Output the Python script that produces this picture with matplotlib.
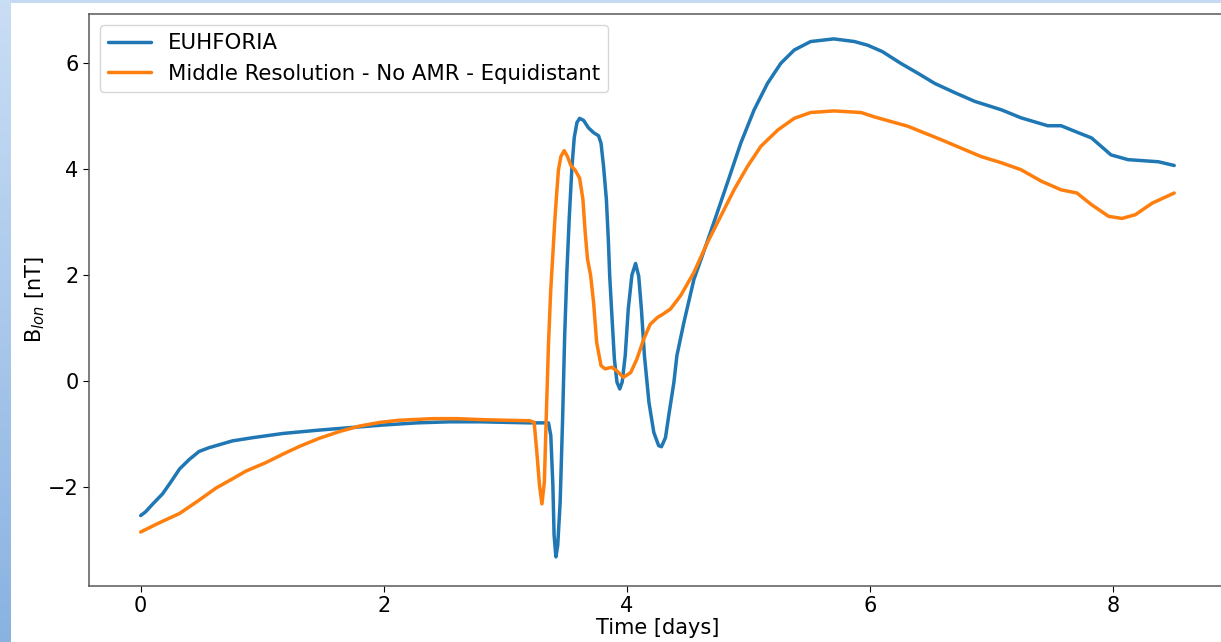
import numpy as np
import matplotlib
matplotlib.use("Agg")
import matplotlib.pyplot as plt

# Longitudinal magnetic field component at the virtual spacecraft
time_euhforia = [0.00, 0.04, 0.10, 0.18, 0.25, 0.32, 0.40, 0.48, 0.56, 0.65,
                 0.755, 0.92, 1.17, 1.45, 1.72, 2.00, 2.27, 2.54, 2.80, 3.00,
                 3.20, 3.354, 3.373, 3.39, 3.40, 3.415, 3.43, 3.45, 3.47, 3.487,
                 3.505, 3.525, 3.547, 3.566, 3.588, 3.61, 3.643, 3.683, 3.725, 3.766,
                 3.786, 3.807, 3.83, 3.846, 3.857, 3.877, 3.896, 3.917, 3.94, 3.96,
                 3.985, 4.01, 4.04, 4.07, 4.096, 4.118, 4.143, 4.18, 4.22, 4.26,
                 4.283, 4.316, 4.343, 4.36, 4.385, 4.41, 4.467, 4.55, 4.632, 4.715,
                 4.825, 4.935, 5.045, 5.155, 5.265, 5.375, 5.51, 5.70, 5.87, 5.98,
                 6.10, 6.25, 6.40, 6.53, 6.70, 6.86, 7.08, 7.24, 7.46, 7.57,
                 7.71, 7.82, 7.98, 8.12, 8.37, 8.50]
blon_euhforia = [-2.54, -2.47, -2.32, -2.13, -1.90, -1.66, -1.48, -1.33, -1.26, -1.20,
                 -1.13, -1.07, -0.99, -0.93, -0.88, -0.83, -0.79, -0.77, -0.77, -0.78,
                 -0.79, -0.79, -1.03, -1.97, -2.91, -3.32, -3.10, -2.28, -0.72, 0.85,
                 2.05, 3.10, 4.05, 4.60, 4.88, 4.96, 4.92, 4.78, 4.69, 4.63,
                 4.49, 4.05, 3.43, 2.67, 2.00, 1.17, 0.41, -0.02, -0.15, -0.02,
                 0.48, 1.36, 2.00, 2.22, 1.98, 1.36, 0.48, -0.40, -0.97, -1.22,
                 -1.24, -1.07, -0.65, -0.40, -0.03, 0.48, 1.10, 1.92, 2.45, 3.00,
                 3.74, 4.49, 5.12, 5.62, 6.00, 6.25, 6.41, 6.46, 6.41, 6.34,
                 6.22, 6.00, 5.80, 5.62, 5.44, 5.28, 5.12, 4.97, 4.82, 4.82,
                 4.69, 4.59, 4.27, 4.18, 4.14, 4.07]

time_middle = [0.00, 0.15, 0.32, 0.48, 0.62, 0.76, 0.866, 1.03, 1.17, 1.31,
               1.47, 1.64, 1.80, 1.97, 2.13, 2.405, 2.60, 2.82, 3.00, 3.20,
               3.236, 3.258, 3.28, 3.30, 3.32, 3.335, 3.354, 3.372, 3.39, 3.405,
               3.42, 3.436, 3.456, 3.483, 3.51, 3.538, 3.574, 3.61, 3.637, 3.656,
               3.675, 3.70, 3.725, 3.75, 3.786, 3.82, 3.875, 3.917, 3.97, 4.03,
               4.08, 4.137, 4.19, 4.25, 4.30, 4.357, 4.44, 4.55, 4.66, 4.77,
               4.88, 4.99, 5.10, 5.24, 5.375, 5.51, 5.70, 5.925, 6.03, 6.31,
               6.58, 6.91, 7.08, 7.24, 7.41, 7.57, 7.70, 7.82, 7.96, 8.07,
               8.18, 8.32, 8.50]
blon_middle = [-2.85, -2.68, -2.50, -2.25, -2.02, -1.84, -1.70, -1.54, -1.38, -1.23,
               -1.08, -0.95, -0.85, -0.78, -0.74, -0.71, -0.71, -0.73, -0.74, -0.75,
               -0.78, -1.34, -1.97, -2.32, -1.91, -0.72, 0.70, 1.70, 2.40, 3.00,
               3.50, 3.99, 4.24, 4.35, 4.24, 4.07, 3.98, 3.83, 3.43, 2.80,
               2.30, 2.00, 1.48, 0.73, 0.29, 0.23, 0.26, 0.19, 0.07, 0.16,
               0.41, 0.79, 1.07, 1.20, 1.27, 1.36, 1.61, 2.05, 2.61, 3.11,
               3.61, 4.05, 4.43, 4.74, 4.96, 5.07, 5.10, 5.07, 4.99, 4.81,
               4.56, 4.24, 4.12, 3.99, 3.77, 3.61, 3.55, 3.33, 3.11, 3.07,
               3.14, 3.36, 3.55]

labels = ["EUHFORIA", "Middle Resolution - No AMR - Equidistant"]
x_ticks = [0, 2, 4, 6, 8]
y_ticks = [-2, 0, 2, 4, 6]

W, H, DPI = 1221, 642, 100
fig = plt.figure(figsize=(W / DPI, H / DPI), dpi=DPI, facecolor="white")

# Slide-style backdrop: light blue band on top, vertical gradient band on the left
bg = fig.add_axes([0, 0, 1, 1], zorder=-10)
img = np.ones((H, W, 3))
img[:3, :, :] = np.array([0.78, 0.86, 0.95])
t = np.linspace(0, 1, H)[:, None]
c0 = np.array([0.79, 0.87, 0.96])
c1 = np.array([0.54, 0.70, 0.88])
img[:, :11, :] = (c0 * (1 - t) + c1 * t)[:, None, :]
bg.imshow(img, aspect="auto", extent=(0, 1, 0, 1), interpolation="nearest")
bg.set_axis_off()

ax = fig.add_axes([89 / W, 56 / H, (W - 89) / W + 0.004, (586 - 14) / H])
ax.plot(time_euhforia, blon_euhforia, color="#1f77b4", lw=2.5,
        solid_joinstyle="round", solid_capstyle="round", label=labels[0])
ax.plot(time_middle, blon_middle, color="#ff7f0e", lw=2.5,
        solid_joinstyle="round", solid_capstyle="round", label=labels[1])

ax.set_xticks(x_ticks)
ax.set_yticks(y_ticks)
ax.set_xticklabels([str(v) for v in x_ticks])
ax.set_yticklabels([str(v).replace("-", "\u2212") for v in y_ticks])
ax.tick_params(labelsize=15, colors="black", length=4, width=0.8)
for s in ax.spines.values():
    s.set_color("0.35")
    s.set_linewidth(1.1)
ax.spines["right"].set_visible(False)

ax.set_xlim(-0.425, 8.925)
ax.set_ylim(-3.87, 6.93)
ax.set_xlabel("Time [days]", fontsize=15, labelpad=1)
ax.set_ylabel("B$_{lon}$ [nT]", fontsize=15, labelpad=0.5)
ax.legend(loc="upper left", fontsize=15.3, handlelength=2.0)

fig.savefig("out.png", dpi=DPI, facecolor=fig.get_facecolor())
